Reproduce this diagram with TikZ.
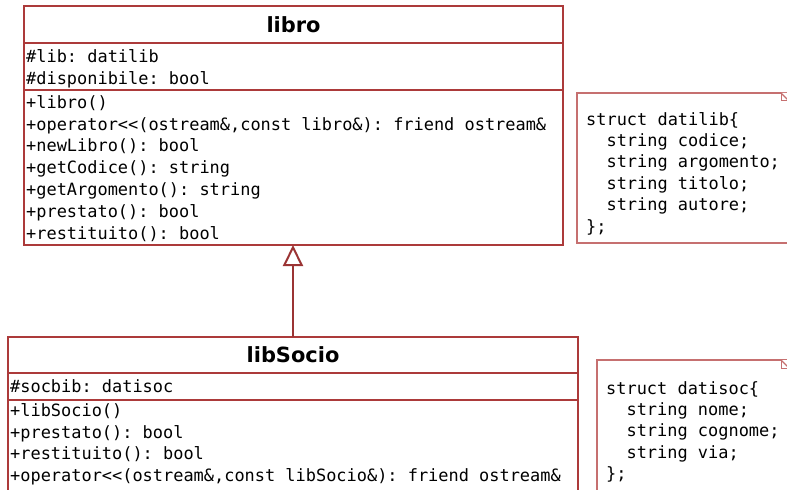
\documentclass[tikz,border=0pt]{standalone}
\usepackage{fontspec}
\setsansfont{DejaVu Sans}
\setmonofont{DejaVu Sans Mono}
\usetikzlibrary{arrows.meta, positioning, calc}
\definecolor{umlred}{RGB}{172,58,58}
\definecolor{notered}{RGB}{198,112,112}

\begin{document}
\begin{tikzpicture}[
		x=1bp, y=-1bp,
		% Style for the class name compartment
		classhead/.style={
			draw=umlred, line width=1.3bp, anchor=north west, outer sep=0pt,
			inner sep=0pt, font=\sffamily\bfseries\fontsize{21}{25}\selectfont
		},
		% Style for attribute and method compartments
		compart/.style={
			draw=umlred, line width=1.3bp, anchor=north west, outer sep=0pt, inner sep=0pt
		},
		codetext/.style={
			anchor=north west, align=left, inner sep=0pt,
			font=\ttfamily\fontsize{17}{22}\selectfont
		},
		notetext/.style={codetext, font=\ttfamily\fontsize{17}{21.5}\selectfont},
		notebox/.style={draw=notered, line width=1.2bp, anchor=north west, outer sep=0pt, inner sep=0pt}
		]
		
		\useasboundingbox (0,0) rectangle (787,490);
		\clip (0,0) rectangle (787,490);
		
		% --- 1. CLASS libro ---
		\node[classhead, minimum width=539bp, minimum height=37bp] (libroHead) at (24,6) {libro};
		\node[compart, minimum width=539bp, minimum height=47bp] (libroAttr) at (libroHead.south west) {};
		\node[compart, minimum width=539bp, minimum height=155bp] (libroMeth) at (libroAttr.south west) {};
		
		\node[codetext] (libroAttrText) at ($(libroAttr.north west)+(2,6)$) {%
			\#lib: datilib\\
			\#disponibile: bool};
		\node[codetext] (libroMethText) at ($(libroMeth.north west)+(2,5)$) {%
			+libro()\\
			+operator<<(ostream\&,const libro\&): friend ostream\&\\
			+newLibro(): bool\\
			+getCodice(): string\\
			+getArgomento(): string\\
			+prestato(): bool\\
			+restituito(): bool};
		
		% --- 2. CLASS libSocio ---
		\node[classhead, minimum width=570bp, minimum height=36bp] (socioHead) at (8,337) {libSocio};
		\node[compart, minimum width=570bp, minimum height=27bp] (socioAttr) at (socioHead.south west) {};
		\node[compart, minimum width=570bp, minimum height=110bp] (socioMeth) at (socioAttr.south west) {};
		
		\node[codetext] (socioAttrText) at ($(socioAttr.north west)+(2,6)$) {%
			\#socbib: datisoc};
		\node[codetext] (socioMethText) at ($(socioMeth.north west)+(2,3)$) {%
			+libSocio()\\
			+prestato(): bool\\
			+restituito(): bool\\
			+operator<<(ostream\&,const libSocio\&): friend ostream\&};
		
		% --- 3. NOTES ---
		\node[notebox, minimum width=212bp, minimum height=150bp] (noteLib) at (577,93) {};
		\node[notetext] (noteLibText) at ($(noteLib.north west)+(9,19)$) {%
			struct datilib\{\\
			~~string codice;\\
			~~string argomento;\\
			~~string titolo;\\
			~~string autore;\\
			\};};
		
		\node[notebox, minimum width=192bp, minimum height=140bp] (noteSoc) at (597,360) {};
		\node[notetext] (noteSocText) at ($(noteSoc.north west)+(9,21)$) {%
			struct datisoc\{\\
			~~string nome;\\
			~~string cognome;\\
			~~string via;\\
			\};};
		
		% folded corners
		\foreach \n in {noteLib, noteSoc} {
			\fill[white] ($(\n.north east)+(-8,0)$) -- (\n.north east) -- ($(\n.north east)+(0,8)$) -- cycle;
			\draw[notered, line width=1.2bp] ($(\n.north east)+(-8,0)$) -- ($(\n.north east)+(0,8)$);
			\draw[notered, line width=1bp] ($(\n.north east)+(-8,0)$) -- ++(0,8) -- ++(8,0);
		}
		
		% --- GENERALIZATION ---
		\draw[umlred!90!black, line width=2bp, -{Triangle[open, length=21bp, width=20bp]}]
			(socioHead.north) -- (socioHead.north |- libroMeth.south);
		
	\end{tikzpicture}
\end{document}
